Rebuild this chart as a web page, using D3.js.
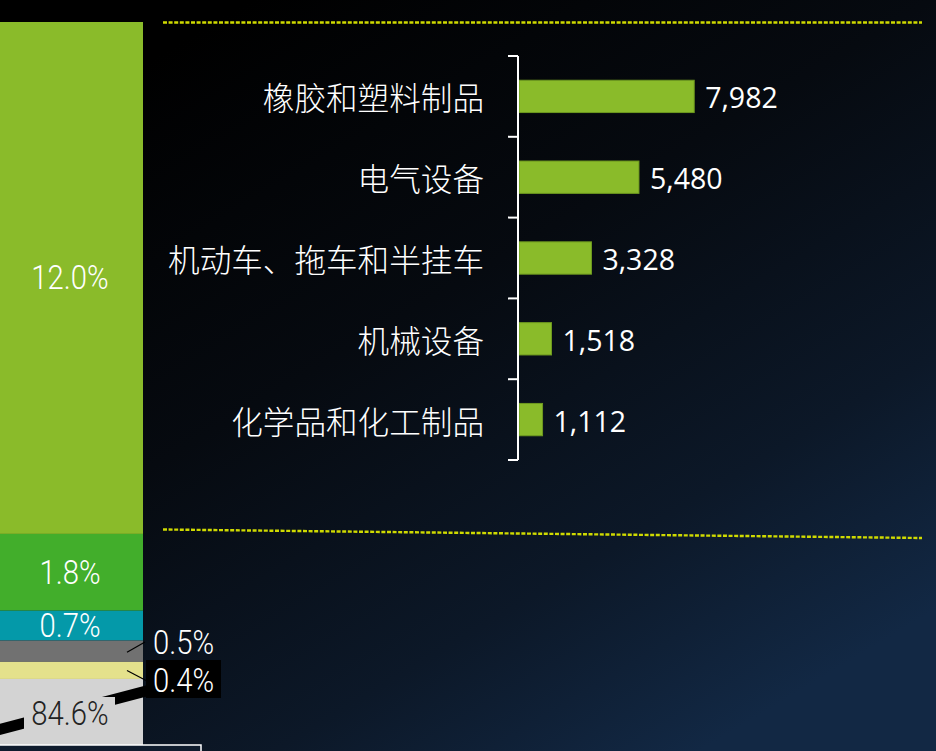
<!DOCTYPE html>
<html>
<head>
<meta charset="utf-8">
<script src="https://cdn.jsdelivr.net/npm/d3@7"></script>
<style>
  html, body { margin: 0; padding: 0; background: #000; overflow: hidden; }
  svg { display: block; }
</style>
</head>
<body>
<svg id="chart" width="936" height="751"></svg>
<script>
// ---- data ----
const stackLabels = ["12.0%", "1.8%", "0.7%", "0.5%", "0.4%", "84.6%"];
const stackValues = [12.0, 1.8, 0.7, 0.5, 0.4, 84.6];
const stackPalette = ["#8ABB2A", "#42AE2B", "#0499A9", "#717171", "#E4E18C", "#D3D3D3"];

const categories = ["橡胶和塑料制品", "电气设备", "机动车、拖车和半挂车", "机械设备", "化学品和化工制品"];
const values = [7982, 5480, 3328, 1518, 1112];

// ---- setup ----
const svg = d3.select("#chart");
const W = 936, H = 751;

const defs = svg.append("defs");
const grad = defs.append("linearGradient").attr("id", "bg")
  .attr("gradientUnits", "userSpaceOnUse")
  .attr("x1", 250).attr("y1", 0).attr("x2", 700).attr("y2", 751);
grad.append("stop").attr("offset", 0).attr("stop-color", "#000000");
grad.append("stop").attr("offset", 0.4).attr("stop-color", "#060a10");
grad.append("stop").attr("offset", 0.75).attr("stop-color", "#0c1828");
grad.append("stop").attr("offset", 1).attr("stop-color", "#122844");
svg.append("rect").attr("width", W).attr("height", H).attr("fill", "url(#bg)");

// ---- left stacked bar (cropped view of a tall 100% bar) ----
const yStack = d3.scaleLinear().domain([0, 100]).range([22, 22 + 100 * 42.66]);
let cum = 0;
const segs = stackValues.map((v, i) => {
  const s = { label: stackLabels[i], value: v, start: cum, end: cum + v, color: stackPalette[i] };
  cum += v;
  return s;
});
const barX0 = -3, barX1 = 143, barCx = 70;
const stackG = svg.append("g");
stackG.selectAll("rect.seg").data(segs).enter().append("rect")
  .attr("class", "seg")
  .attr("x", barX0).attr("width", barX1 - barX0)
  .attr("y", d => yStack(d.start))
  .attr("height", d => yStack(d.end) - yStack(d.start))
  .attr("fill", d => d.color);

// condensed light label helper
function pctText(parent, px, py, anchor, fill, label) {
  parent.append("g")
    .attr("transform", `translate(${px},${py}) scale(0.9,1)`)
    .append("text")
    .attr("text-anchor", anchor)
    .attr("font-family", "Roboto, 'Liberation Sans', sans-serif")
    .attr("font-weight", 300)
    .attr("font-size", 32.5)
    .attr("fill", fill)
    .text(label);
}

// inside labels for the three big-enough segments
segs.slice(0, 3).forEach(d => {
  pctText(stackG, barCx, (yStack(d.start) + yStack(d.end)) / 2 + 11.5, "middle", "#ffffff", d.label);
});

const s05 = segs[3], s04 = segs[4], s846 = segs[5];
// 0.5% outside label
stackG.append("line")
  .attr("x1", 127).attr("y1", (yStack(s05.start) + yStack(s05.end)) / 2 + 1)
  .attr("x2", 145).attr("y2", 642)
  .attr("stroke", "#000").attr("stroke-width", 1.2);
pctText(stackG, 153, 654, "start", "#ffffff", s05.label);

// 84.6% thick leader line
stackG.append("line")
  .attr("x1", -6).attr("y1", 731).attr("x2", 150).attr("y2", 690)
  .attr("stroke", "#000").attr("stroke-width", 11);

// 0.4% leader + label box
stackG.append("line")
  .attr("x1", 127).attr("y1", (yStack(s04.start) + yStack(s04.end)) / 2)
  .attr("x2", 147).attr("y2", 681)
  .attr("stroke", "#000").attr("stroke-width", 1.2);
stackG.append("rect")
  .attr("x", 146).attr("y", 660).attr("width", 75).attr("height", 38)
  .attr("fill", "#000");
pctText(stackG, 153, 692, "start", "#ffffff", s04.label);

// 84.6% label with background
stackG.append("rect")
  .attr("x", 24).attr("y", 697).attr("width", 91).attr("height", 34)
  .attr("fill", s846.color);
pctText(stackG, barCx, 725, "middle", "#222222", s846.label);

// bottom text box
svg.append("rect")
  .attr("x", -5).attr("y", 745).attr("width", 206).attr("height", 30)
  .attr("fill", "#0f1c2d").attr("stroke", "#ffffff").attr("stroke-width", 1.5);

// ---- dashed connector lines ----
const dashG = svg.append("g")
  .attr("stroke", "#CFDA00").attr("stroke-width", 2.4)
  .attr("stroke-dasharray", "4,1.6").attr("fill", "none");
dashG.append("line").attr("x1", 163).attr("y1", 22.5).attr("x2", 922).attr("y2", 22.5);
dashG.append("line").attr("x1", 163).attr("y1", 529.5).attr("x2", 922).attr("y2", 538);

// ---- right horizontal bar chart ----
const axisX = 518;
const x = d3.scaleLinear().domain([0, 8000]).range([axisX, axisX + 176.6]);
const y = d3.scaleBand().domain(categories).range([56, 460])
  .paddingInner(0.6).paddingOuter(0.3);

const barsG = svg.append("g");
barsG.selectAll("rect.bar").data(values).enter().append("rect")
  .attr("class", "bar")
  .attr("x", x(0) + 1)
  .attr("y", (d, i) => y(categories[i]))
  .attr("width", d => x(d) - x(0) - 1)
  .attr("height", y.bandwidth())
  .attr("fill", "#8ABB2A")
  .attr("stroke", "#6E9A1F").attr("stroke-width", 1);

barsG.selectAll("text.val").data(values).enter().append("text")
  .attr("class", "val")
  .attr("x", d => x(d) + 11)
  .attr("y", (d, i) => y(categories[i]) + y.bandwidth() / 2 + 12)
  .attr("font-family", "'Open Sans', 'Noto Sans', sans-serif")
  .attr("font-size", 28.5)
  .attr("fill", "#ffffff")
  .text(d => d3.format(",")(d));

// axis with ticks at band boundaries
const step = y.step();
const gap = step - y.bandwidth();
const bounds = categories.map(c => y(c) - gap / 2).concat([y.range()[1]]);
const axG = svg.append("g").attr("stroke", "#ffffff").attr("stroke-width", 2);
axG.append("line").attr("x1", axisX).attr("x2", axisX)
  .attr("y1", bounds[0]).attr("y2", bounds[bounds.length - 1]);
axG.selectAll("line.tick").data(bounds).enter().append("line")
  .attr("class", "tick")
  .attr("x1", 508).attr("x2", axisX)
  .attr("y1", d => d).attr("y2", d => d);

svg.append("g").selectAll("text.cat").data(categories).enter().append("text")
  .attr("class", "cat")
  .attr("x", 484)
  .attr("y", c => y(c) + y.bandwidth() / 2)
  .attr("dominant-baseline", "central")
  .attr("text-anchor", "end")
  .attr("font-family", "'Noto Sans CJK SC', sans-serif")
  .attr("font-weight", 300)
  .attr("font-size", 31.6)
  .attr("fill", "#ffffff")
  .text(c => c);
</script>
</body>
</html>
